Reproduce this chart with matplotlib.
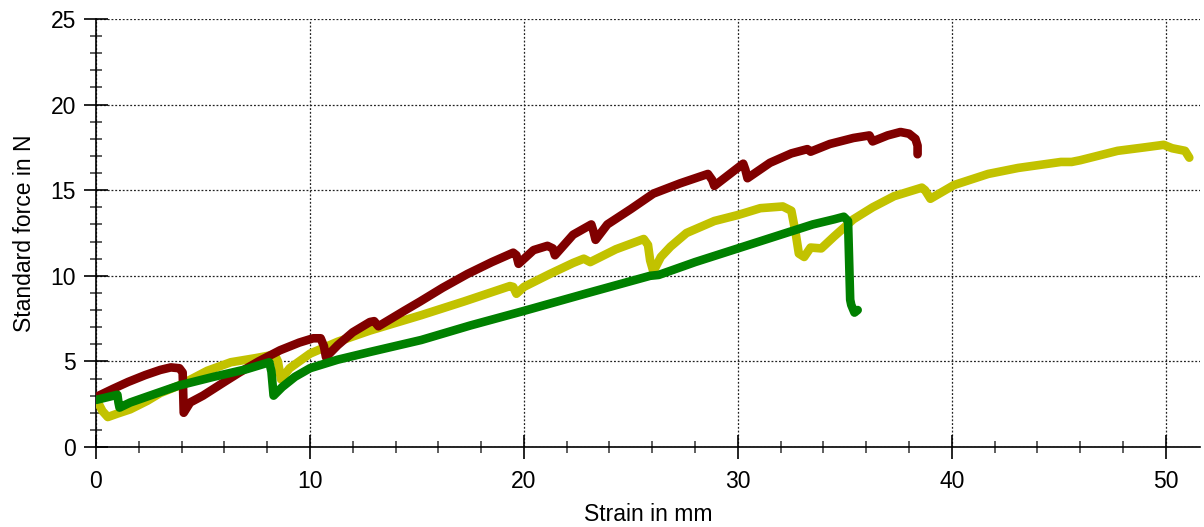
import matplotlib
matplotlib.use("Agg")
import matplotlib.pyplot as plt
from matplotlib.ticker import MultipleLocator

# Specimen 1 (dark red)
red_strain = [0.05, 0.8, 1.5, 2.3, 3.0, 3.5, 3.9, 4.05, 4.1, 4.4, 5.0, 5.5, 6.0, 6.7, 7.6, 8.6,
              9.5, 10.15, 10.5, 10.65, 10.75, 11.3, 12.0, 12.8, 13.0, 13.2, 14.4, 15.15,
              16.2, 17.35, 18.5, 19.5, 19.65, 19.75, 20.45, 21.1, 21.35, 21.45, 22.3, 23.15,
              23.25, 23.35, 23.9, 25.0, 26.05, 27.3, 28.6, 28.8, 28.9, 30.25, 30.35, 30.45,
              31.5, 32.5, 33.25, 33.4, 34.3, 35.4, 36.15, 36.3, 37.0, 37.6, 38.0, 38.3,
              38.4, 38.4]
red_force = [2.95, 3.4, 3.8, 4.2, 4.5, 4.65, 4.6, 4.35, 2.0, 2.6, 3.0, 3.4, 3.8, 4.35, 5.0, 5.65,
             6.1, 6.35, 6.35, 5.9, 5.25, 5.95, 6.7, 7.3, 7.35, 7.05, 7.95, 8.5,
             9.3, 10.1, 10.8, 11.35, 11.2, 10.7, 11.5, 11.75, 11.6, 11.2, 12.4, 13.0,
             12.6, 12.1, 13.0, 13.9, 14.8, 15.4, 15.95, 15.6, 15.25, 16.55, 16.2, 15.7,
             16.6, 17.15, 17.4, 17.25, 17.7, 18.05, 18.2, 17.85, 18.2, 18.4, 18.3, 18.0,
             17.6, 17.1]

# Specimen 2 (yellow)
yel_strain = [0.05, 0.3, 0.55, 1.0, 1.6, 2.4, 3.0, 3.9, 5.2, 6.3, 7.5, 8.35, 8.5, 8.65,
              9.05, 10.0, 11.3, 12.8, 15.2, 17.2, 19.35, 19.5, 19.65, 20.0, 21.2, 22.3,
              22.8, 23.1, 24.3, 25.6, 25.8, 25.9, 26.05, 26.4, 26.85, 27.6, 28.9, 30.0,
              31.05, 32.1, 32.5, 32.7, 32.85, 33.1, 33.4, 33.9, 34.5, 35.4, 36.3, 37.3,
              38.6, 38.75, 39.0, 40.1, 41.7, 43.1, 45.1, 45.6, 46.0, 47.75, 49.0, 49.9,
              50.3, 50.9, 51.1]
yel_force = [2.7, 2.1, 1.75, 1.95, 2.2, 2.7, 3.15, 3.6, 4.45, 4.95, 5.2, 5.4, 5.0, 3.95,
             4.6, 5.45, 6.15, 6.8, 7.7, 8.5, 9.4, 9.35, 8.95, 9.35, 10.1, 10.75,
             11.0, 10.8, 11.55, 12.15, 11.8, 10.9, 10.25, 11.1, 11.7, 12.5, 13.2, 13.55,
             13.95, 14.05, 13.8, 12.5, 11.3, 11.1, 11.65, 11.6, 12.3, 13.3, 14.0, 14.65,
             15.15, 15.0, 14.5, 15.3, 15.95, 16.3, 16.65, 16.65, 16.75, 17.3, 17.5, 17.65,
             17.45, 17.3, 16.9]

# Specimen 3 (green)
grn_strain = [0.0, 0.5, 1.0, 1.05, 1.1, 1.6, 2.4, 3.9, 5.5, 7.05, 8.1, 8.2, 8.3, 8.7, 9.3,
              10.0, 11.3, 12.8, 15.2, 17.5, 20.0, 23.0, 25.9, 26.3, 28.0, 30.0, 32.0,
              33.5, 34.5, 34.95, 35.15, 35.25, 35.3, 35.45, 35.6]
grn_force = [2.75, 2.9, 3.05, 2.6, 2.3, 2.6, 2.95, 3.6, 4.1, 4.55, 4.95, 4.4, 3.0, 3.5, 4.1,
             4.6, 5.1, 5.55, 6.25, 7.1, 7.95, 9.0, 10.0, 10.05, 10.8, 11.6, 12.4,
             13.0, 13.3, 13.45, 13.2, 8.6, 8.3, 7.85, 8.0]

x_label = "Strain in mm"
y_label = "Standard force in N"

plt.rcParams['font.family'] = ['Liberation Sans', 'DejaVu Sans']

fig = plt.figure(figsize=(12.04, 5.27), dpi=100)
ax = fig.add_axes([96 / 1204, 80 / 527, 1104 / 1204, 428 / 527])

lw = 6.2
kw = dict(linewidth=lw, solid_joinstyle='round', solid_capstyle='round')
ax.plot(yel_strain, yel_force, color='#c2c200', **kw, zorder=3)
ax.plot(red_strain, red_force, color='#800000', **kw, zorder=4)
ax.plot(grn_strain, grn_force, color='#008000', **kw, zorder=5)

ax.set_xlim(0, 51.6)
ax.set_ylim(0, 25)
ax.xaxis.set_major_locator(MultipleLocator(10))
ax.xaxis.set_minor_locator(MultipleLocator(2))
ax.yaxis.set_major_locator(MultipleLocator(5))
ax.yaxis.set_minor_locator(MultipleLocator(1))

ax.grid(True, which='major', color='#222222', linestyle=(0, (1.5, 1.5)), linewidth=0.9)
for s in ['top', 'right']:
    ax.spines[s].set_visible(False)
for s in ['left', 'bottom']:
    ax.spines[s].set_linewidth(1.2)
    ax.spines[s].set_color('black')

ax.tick_params(which='major', direction='inout', length=17, width=1.2, colors='black',
               labelsize=16.5)
ax.tick_params(axis='x', which='major', pad=8)
ax.tick_params(axis='y', which='major', pad=6)
ax.tick_params(which='minor', direction='inout', length=8, width=1.2, color='#444444')

ax.set_xlabel(x_label, fontsize=16.5, labelpad=7)
ax.set_ylabel(y_label, fontsize=16.5, labelpad=10)

fig.savefig("out.png", dpi=100)
